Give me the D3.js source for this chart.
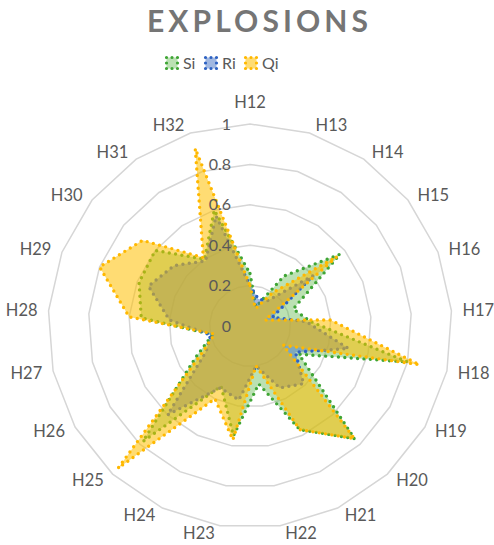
<!DOCTYPE html>
<html>
<head>
<meta charset="utf-8">
<script src="https://cdn.jsdelivr.net/npm/d3@7"></script>
<style>
  body { margin: 0; background: #fff; }
  text { font-family: Lato, "Open Sans", sans-serif; }
</style>
</head>
<body>
<svg id="chart" width="494" height="545"></svg>
<script>
// Radar axes, clockwise from the top
const categories = ["H12","H13","H14","H15","H16","H17","H18","H19","H20","H21","H22",
                    "H23","H24","H25","H26","H27","H28","H29","H30","H31","H32"];

// Series values per axis
const si = [0.26,0.10,0.30,0.57,0.23,0.30,0.80,0.28,0.76,0.57,0.29,
            0.55,0.33,0.78,0.31,0.19,0.54,0.59,0.60,0.40,0.60];
const ri = [0.20,0.14,0.15,0.40,0.12,0.28,0.50,0.26,0.39,0.34,0.20,
            0.37,0.34,0.60,0.25,0.20,0.40,0.54,0.48,0.39,0.57];
const qi = [0.20,0.09,0.20,0.55,0.08,0.40,0.86,0.19,0.76,0.57,0.20,
            0.57,0.40,0.96,0.28,0.18,0.60,0.80,0.68,0.41,0.92];

const seriesNames = ["Si", "Ri", "Qi"];
const tickValues = [0, 0.2, 0.4, 0.6, 0.8, 1];
const titleText = "EXPLOSIONS";

const series = [
  { name: seriesNames[0], values: si, stroke: "#3FA535", fill: "#5DB84A", fillOpacity: 0.42 },
  { name: seriesNames[1], values: ri, stroke: "#2E62C2", fill: "#4472C4", fillOpacity: 0.5 },
  { name: seriesNames[2], values: qi, stroke: "#FFB800", fill: "#FFC000", fillOpacity: 0.55 }
];

const svg = d3.select("#chart");
const cx = 250, cy = 326, R = 202;

const r = d3.scaleLinear().domain([0, 1]).range([0, R]);
const angle = d3.scaleLinear().domain([0, categories.length]).range([0, 2 * Math.PI]);

const plot = svg.append("g").attr("transform", `translate(${cx},${cy})`);

// Concentric polygon grid
const radial = d3.lineRadial()
  .angle((d, i) => angle(i))
  .radius(d => r(d))
  .curve(d3.curveLinearClosed);

plot.append("g").selectAll("path")
  .data(tickValues.filter(t => t > 0))
  .join("path")
  .attr("d", t => radial(categories.map(() => t)))
  .attr("fill", "none")
  .attr("stroke", "#d6d6d6")
  .attr("stroke-width", 1.5);

// Series polygons: each one filled then outlined with round dots,
// so later series tint the outlines of earlier ones
const layers = plot.append("g");
series.forEach(s => {
  const g = layers.append("g");
  g.append("path")
    .attr("d", radial(s.values))
    .attr("fill", s.fill)
    .attr("fill-opacity", s.fillOpacity)
    .attr("stroke", "none");
  g.append("path")
    .attr("d", radial(s.values))
    .attr("fill", "none")
    .attr("stroke", s.stroke)
    .attr("stroke-width", 3.4)
    .attr("stroke-linecap", "round")
    .attr("stroke-linejoin", "round")
    .attr("stroke-dasharray", "0 6.4");
});

// Value labels along the first axis
plot.append("g").selectAll("text")
  .data(tickValues)
  .join("text")
  .attr("x", -19)
  .attr("y", t => -r(t))
  .attr("dy", "0.35em")
  .attr("text-anchor", "end")
  .attr("fill", "#595959")
  .attr("font-size", 16)
  .text(t => d3.format("~g")(t));

// Category labels around the outer ring
plot.append("g").selectAll("text")
  .data(categories)
  .join("text")
  .each(function (c, i) {
    const a = angle(i);
    const sx = Math.sin(a), cy0 = -Math.cos(a);
    const ex = sx * R, ey = cy0 * R;
    const t = d3.select(this);
    if (Math.abs(sx) < 0.05) {
      t.attr("x", ex).attr("y", ey + cy0 * 22).attr("text-anchor", "middle");
    } else {
      const off = 4 + 7 * Math.abs(sx);
      t.attr("x", ex + (sx > 0 ? off : -off))
       .attr("y", ey + cy0 * 8)
       .attr("text-anchor", sx > 0 ? "start" : "end");
    }
  })
  .attr("dy", "0.35em")
  .attr("fill", "#595959")
  .attr("font-size", 16.5)
  .text(c => c);

// Title
svg.append("text")
  .attr("x", 257.5)
  .attr("y", 32)
  .attr("text-anchor", "middle")
  .attr("font-size", 30)
  .attr("font-weight", 700)
  .attr("fill", "#757575")
  .attr("textLength", 221)
  .attr("lengthAdjust", "spacing")
  .text(titleText);

// Legend
const legendX = [165, 204, 244];
const legend = svg.append("g");
series.forEach((s, i) => {
  const g = legend.append("g").attr("transform", `translate(${legendX[i]},56)`);
  g.append("rect")
    .attr("x", 1.5).attr("y", 1.5)
    .attr("width", 11).attr("height", 11)
    .attr("fill", s.fill)
    .attr("fill-opacity", s.fillOpacity)
    .attr("stroke", s.stroke)
    .attr("stroke-width", 3.2)
    .attr("stroke-linecap", "round")
    .attr("stroke-dasharray", "0 5.5");
  g.append("text")
    .attr("x", 18)
    .attr("y", 7)
    .attr("dy", "0.35em")
    .attr("fill", "#595959")
    .attr("font-size", 16)
    .text(s.name);
});
</script>
</body>
</html>
